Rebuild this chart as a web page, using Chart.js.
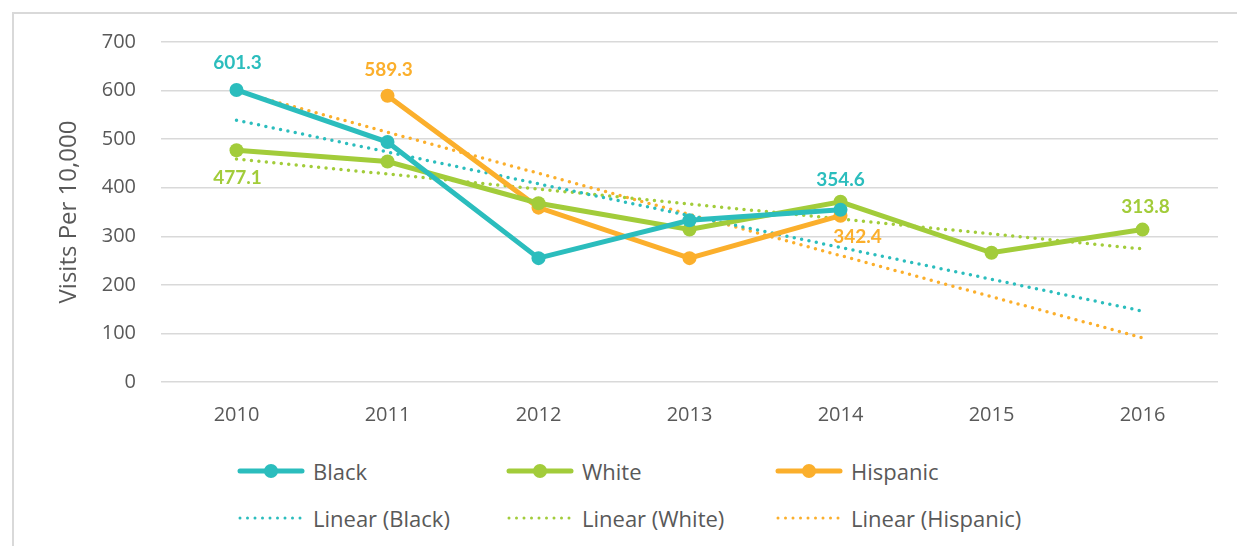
<!DOCTYPE html>
<html>
<head>
<meta charset="utf-8">
<script src="https://cdn.jsdelivr.net/npm/chart.js@4"></script>
<style>
  body { margin: 0; background: #fff; font-family: "Open Sans", sans-serif; }
  .frame { position: absolute; left: 12px; top: 12px; width: 1240px; height: 540px;
           border-left: 2px solid #d9d9d9; border-top: 2px solid #d9d9d9; }
  .wrap { position: absolute; left: 0; top: 0; width: 1237px; height: 440px; }
  .legend { position: absolute; left: 237px; top: 447px; display: grid;
            grid-template-columns: 269px 269px 269px; grid-auto-rows: 47px; }
  .legend div { display: flex; align-items: center; color: #595959; font-size: 22px; }
  .legend svg { margin-right: 8px; }
</style>
</head>
<body>
<div class="frame"></div>
<div class="wrap"><canvas id="myLineChart"></canvas></div>
<div class="legend" id="legend"></div>
<script>
  const years = ['2010', '2011', '2012', '2013', '2014', '2015', '2016'];
  const black = [601.3, 494, 255, 333, 354.6, null, null];
  const white = [477.1, 454, 368, 314, 371, 266, 313.8];
  const hispanic = [null, 589.3, 359, 255, 342.4, null, null];
  // trendline ends
  const blackTrend = [539, null, null, null, null, null, 146];
  const whiteTrend = [459, null, null, null, null, null, 274];
  const hispanicTrend = [599, null, null, null, null, null, 91];
  const yTicks = [0, 100, 200, 300, 400, 500, 600, 700];

  const teal = '#2bbdbd';
  const green = '#a2cc3a';
  const orange = '#fbaf2c';
  const grey = '#595959';

  // which points get a value label: [dataset, index, dx, dy]
  const valueLabels = [
    [0, 0, 1, -27],
    [2, 1, 1, -26],
    [0, 4, 0, -30],
    [1, 6, 3, -23],
    [1, 0, 1, 28],
    [2, 4, 17, 21]
  ];

  function solid(label, data, color) {
    return {
      label: label, data: data, borderColor: color, backgroundColor: color,
      borderWidth: 5, pointRadius: 7, pointHoverRadius: 7, pointBorderWidth: 0,
      spanGaps: false, tension: 0, order: 1
    };
  }
  function trend(label, data, color) {
    return {
      label: label, data: data, borderColor: color, backgroundColor: color,
      borderWidth: 3.5, borderDash: [0, 7.5], borderCapStyle: 'round',
      pointRadius: 0, pointHoverRadius: 0, spanGaps: true, tension: 0, order: 2,
      dotted: true
    };
  }

  const data = {
    labels: years,
    datasets: [
      solid('Black', black, teal),
      solid('White', white, green),
      solid('Hispanic', hispanic, orange),
      trend('Linear (Black)', blackTrend, teal),
      trend('Linear (White)', whiteTrend, green),
      trend('Linear (Hispanic)', hispanicTrend, orange)
    ]
  };

  const labelPlugin = {
    id: 'valueLabels',
    afterDatasetsDraw(chart) {
      const ctx = chart.ctx;
      ctx.save();
      ctx.font = 'bold 19px Lato';
      ctx.textAlign = 'center';
      ctx.textBaseline = 'middle';
      valueLabels.forEach(function(l) {
        const ds = chart.data.datasets[l[0]];
        const pt = chart.getDatasetMeta(l[0]).data[l[1]];
        ctx.fillStyle = ds.borderColor;
        ctx.fillText(ds.data[l[1]].toFixed(1), pt.x + l[2], pt.y + l[3]);
      });
      ctx.restore();
    }
  };

  const config = {
    type: 'line',
    data,
    options: {
      responsive: true,
      maintainAspectRatio: false,
      animation: false,
      layout: { padding: { top: 42, right: 19, left: 0, bottom: 0 } },
      plugins: {
        legend: { display: false },
        tooltip: { enabled: false }
      },
      scales: {
        x: {
          offset: true,
          grid: { display: false, drawTicks: false },
          border: { display: false },
          ticks: { color: grey, font: { family: 'Open Sans', size: 20 }, padding: 21 },
          afterFit(scale) { scale.height = 58; }
        },
        y: {
          min: 0, max: 700,
          afterBuildTicks(scale) { scale.ticks = yTicks.map(v => ({ value: v })); },
          grid: { color: '#d9d9d9', lineWidth: 1.5, drawTicks: false },
          border: { display: false },
          ticks: { color: grey, font: { family: 'Open Sans', size: 20 }, padding: 25 },
          title: {
            display: true, text: 'Visits Per 10,000', color: grey,
            font: { family: 'Open Sans', size: 24 }, padding: { top: 55, bottom: 0 }
          },
          afterFit(scale) { scale.width = 161; }
        }
      }
    },
    plugins: [labelPlugin]
  };

  var myChart = new Chart(document.getElementById('myLineChart'), config);

  // legend, built from the chart's datasets
  const legend = document.getElementById('legend');
  myChart.data.datasets.forEach(function(ds) {
    let mark;
    if (ds.dotted) {
      mark = '<svg width="68" height="10"><line x1="3" y1="5" x2="66" y2="5" stroke="' + ds.borderColor +
        '" stroke-width="3" stroke-linecap="round" stroke-dasharray="0 7.5"/></svg>';
    } else {
      mark = '<svg width="68" height="16"><line x1="3" y1="8" x2="65" y2="8" stroke="' + ds.borderColor +
        '" stroke-width="5" stroke-linecap="round"/><circle cx="34" cy="8" r="7" fill="' + ds.borderColor + '"/></svg>';
    }
    legend.innerHTML += '<div>' + mark + '<span>' + ds.label + '</span></div>';
  });
</script>
</body>
</html>
